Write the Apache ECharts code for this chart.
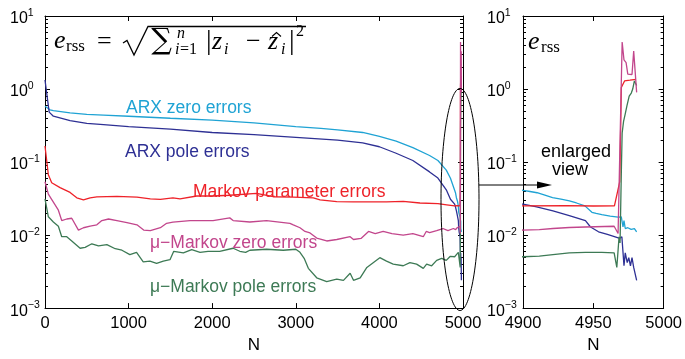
<!DOCTYPE html>
<html><head><meta charset="utf-8">
<script src="https://cdn.jsdelivr.net/npm/echarts@6/dist/echarts.min.js"></script>
<style>html,body{margin:0;padding:0;background:#fff}#c{width:685px;height:359px}</style>
</head><body><div id="c"></div>
<script>
const xTicksMain = [0, 1000, 2000, 3000, 4000, 5000];
const xTicksZoom = [4900, 4950, 5000];
const yMajor = [0.001, 0.01, 0.1, 1, 10];
const yMinor = [0.002,0.003,0.004,0.005,0.006,0.007,0.008,0.009,
                0.02,0.03,0.04,0.05,0.06,0.07,0.08,0.09,
                0.2,0.3,0.4,0.5,0.6,0.7,0.8,0.9,
                2,3,4,5,6,7,8,9];
const seriesNames = ['ARX zero errors','ARX pole errors','Markov parameter errors','μ−Markov zero errors','μ−Markov pole errors'];

const arxZero = [[0,0.58],[60,0.52],[100,0.505],[300,0.47],[500,0.45],[700,0.44],[1000,0.424],[1500,0.398],[2000,0.375],[2500,0.345],[3000,0.305],[3300,0.29],[3500,0.275],[3800,0.254],[4000,0.225],[4200,0.193],[4400,0.158],[4600,0.123],[4700,0.105],[4800,0.0776],[4850,0.06],[4900,0.041],[4905,0.0395],[4910,0.038],[4915,0.0355],[4921,0.0325],[4927,0.031],[4933,0.0293],[4938,0.0275],[4944,0.0251],[4949,0.0205],[4952,0.0198],[4956,0.019],[4962,0.0182],[4967.6,0.0176],[4969.9,0.0178],[4971.1,0.0129],[4971.8,0.0158],[4972.7,0.0123],[4974.5,0.0126],[4976.9,0.012],[4979.2,0.0123],[4980.8,0.0111]];

const arxPole = [[0,1.33],[50,0.483],[100,0.424],[300,0.37],[500,0.339],[700,0.325],[1000,0.305],[1500,0.282],[2000,0.254],[2500,0.237],[3000,0.218],[3500,0.2],[3800,0.183],[4000,0.162],[4200,0.132],[4400,0.105],[4600,0.0733],[4700,0.0603],[4800,0.0417],[4850,0.0309],[4900,0.0265],[4909.7,0.0244],[4921.3,0.0215],[4932.9,0.0185],[4944.4,0.0158],[4948,0.0129],[4953.7,0.0111],[4960,0.0102],[4965,0.00953],[4968.8,0.00904],[4970.3,0.0095],[4971.8,0.0038],[4972.7,0.0057],[4974.1,0.0042],[4975.2,0.0049],[4976.4,0.0038],[4977.5,0.0049],[4978.7,0.0036],[4979.6,0.0034],[4980.8,0.0024]];

const markov = [[0,0.166],[40,0.067],[80,0.052],[180,0.0447],[300,0.0384],[380,0.0324],[460,0.0303],[540,0.0324],[620,0.0334],[860,0.0339],[1100,0.0331],[1260,0.0313],[1380,0.0309],[1530,0.0324],[1615,0.0313],[1815,0.0343],[2010,0.0343],[2210,0.0351],[2530,0.0372],[2730,0.0335],[2970,0.0331],[3210,0.0324],[3290,0.0303],[3490,0.0288],[3685,0.0285],[4085,0.0285],[4285,0.029],[4485,0.0275],[4700,0.027],[4805,0.026],[4900,0.0251],[4930,0.0253],[4950,0.025],[4965,0.0251],[4968.8,0.054],[4969.9,1.05],[4972.2,1.29],[4976,1.32],[4980.3,1.36]];

const muZero = [[0,0.0537],[40,0.0363],[100,0.0282],[160,0.0219],[200,0.0158],[260,0.0166],[320,0.017],[400,0.0117],[460,0.0126],[540,0.0133],[620,0.0138],[680,0.0158],[760,0.0166],[860,0.0158],[980,0.0148],[1100,0.0138],[1180,0.0117],[1260,0.0115],[1380,0.0126],[1455,0.0145],[1530,0.015],[1735,0.0158],[2010,0.0158],[2210,0.0172],[2250,0.0158],[2450,0.0151],[2650,0.0158],[2930,0.0145],[2970,0.0138],[3050,0.0126],[3110,0.0112],[3170,0.0107],[3250,0.0091],[3370,0.0083],[3490,0.0087],[3650,0.0095],[3690,0.0087],[3780,0.009],[3870,0.0112],[3950,0.0105],[4045,0.0112],[4150,0.0105],[4285,0.01],[4400,0.0105],[4525,0.0095],[4560,0.0112],[4600,0.0108],[4685,0.0115],[4760,0.0123],[4820,0.0115],[4885,0.0123],[4900,0.0117],[4911.6,0.0119],[4921.3,0.0123],[4932.9,0.0127],[4944.4,0.0129],[4964.8,0.0132],[4967.6,0.0105],[4970.5,4.4],[4971.8,2.5],[4973.3,2.3],[4974.5,1.6],[4977.5,1.58],[4978.7,3.3],[4980.8,0.9]];

const muPole = [[0,0.0313],[40,0.0178],[100,0.0151],[160,0.0132],[200,0.0095],[260,0.0095],[320,0.0083],[420,0.0066],[480,0.0068],[560,0.0076],[640,0.0071],[740,0.0074],[840,0.0065],[920,0.0062],[1015,0.0054],[1095,0.0058],[1175,0.0043],[1255,0.0044],[1335,0.0041],[1415,0.0044],[1495,0.0046],[1540,0.006],[1655,0.0057],[1755,0.0063],[1855,0.0058],[1950,0.006],[2090,0.006],[2250,0.0066],[2330,0.006],[2400,0.0058],[2450,0.0062],[2650,0.0064],[2850,0.0062],[3000,0.0064],[3050,0.0058],[3100,0.0048],[3150,0.0035],[3250,0.0026],[3370,0.0023],[3490,0.0025],[3570,0.0024],[3650,0.003],[3690,0.0024],[3770,0.0026],[3850,0.0036],[4005,0.0049],[4085,0.0044],[4165,0.004],[4285,0.0038],[4365,0.0042],[4445,0.004],[4525,0.0035],[4565,0.004],[4625,0.0038],[4685,0.0045],[4745,0.0048],[4800,0.0045],[4845,0.0051],[4900,0.00505],[4911.6,0.00515],[4921.3,0.0054],[4932.9,0.0057],[4944.4,0.0058],[4956,0.0058],[4964.8,0.0057],[4966.7,0.0036],[4968.3,0.0095],[4969,0.0078],[4970,0.09],[4970.5,0.25],[4971.5,0.36],[4972.5,0.44],[4974,0.6],[4975.5,0.8],[4977,0.88],[4978,1.0],[4979.2,1.29],[4980.8,1.12]];

const colors = {arxZero:'#1fa3d4', arxPole:'#2e3094', markov:'#ee2229', muZero:'#c2468c', muPole:'#3d7a55'};

const SANS = '"Liberation Sans", Arial, Helvetica, sans-serif';
const SERIF = '"Liberation Serif", "DejaVu Serif", serif';

function xAx(grid, min, max, interval, pos, labels) {
  return {
    type: 'value', gridIndex: grid, min: min, max: max, interval: interval, position: pos,
    axisLine: {show: true, onZero: false, lineStyle: {color: '#000', width: 1}},
    axisTick: {show: true, inside: true, length: 5, lineStyle: {color: '#000', width: 1}},
    axisLabel: {show: labels, margin: 7, color: '#000', fontSize: 16.5, fontFamily: SANS,
                formatter: function (v) { return String(v); }},
    splitLine: {show: false},
    name: labels ? 'N' : '', nameLocation: 'middle', nameGap: 24,
    nameTextStyle: {color: '#000', fontSize: 17, fontFamily: SANS}
  };
}
function expFmt(v) {
  const e = Math.round(Math.log10(v));
  return '{b|10}{s|' + (e < 0 ? '\u2212' + (-e) : e) + '}';
}
function yAx(grid, pos, major, labels, margin) {
  return {
    type: 'log', logBase: 10, gridIndex: grid, min: 0.001, max: 10, position: pos,
    axisLine: {show: major, onZero: false, lineStyle: {color: '#000', width: 1}},
    axisTick: {show: true, inside: true, length: major ? 5 : 3, customValues: major ? yMajor : yMinor,
               lineStyle: {color: '#000', width: 1}},
    axisLabel: {show: labels, customValues: yMajor, align: 'left', margin: margin, formatter: expFmt,
      rich: {
        b: {fontSize: 16, fontFamily: SANS, color: '#000', padding: [6, 0, 0, 0]},
        s: {fontSize: 10.5, fontFamily: SANS, color: '#000', padding: [0, 0, 6, 0]}
      }},
    splitLine: {show: false}, minorTick: {show: false}
  };
}

const grids = [
  {left: 45, top: 16, width: 418, height: 301},
  {left: 523, top: 16, width: 144, height: 301}
];
const xAxes = [
  xAx(0, 0, 5000, 1000, 'bottom', true),
  xAx(0, 0, 5000, 1000, 'top', false),
  xAx(1, 4900, 5000, 50, 'bottom', true),
  xAx(1, 4900, 5000, 50, 'top', false)
];
const yAxes = [
  yAx(0, 'left', true, true, 35), yAx(0, 'left', false, false, 0),
  yAx(0, 'right', true, false, 0), yAx(0, 'right', false, false, 0),
  yAx(1, 'left', true, true, 36), yAx(1, 'left', false, false, 0),
  yAx(1, 'right', true, false, 0), yAx(1, 'right', false, false, 0)
];

const order = [['arxZero', arxZero], ['arxPole', arxPole], ['markov', markov], ['muPole', muPole], ['muZero', muZero]];
const series = [];
[[0, 0], [2, 4]].forEach(function (ax) {
  order.forEach(function (o) {
    series.push({
      type: 'line', xAxisIndex: ax[0], yAxisIndex: ax[1], data: o[1], showSymbol: false, symbol: 'none',
      lineStyle: {color: colors[o[0]], width: 1.3}, clip: true, animation: false, silent: true
    });
  });
});

function txt(x, y, text, size, style, fam, fill, align) {
  return {type: 'text', x: x, y: y, z: 100, silent: true,
    style: {text: text, fontSize: size, fontStyle: style || 'normal', fontFamily: fam || SANS,
            fill: fill || '#000', textAlign: align || 'left', align: align || 'left',
            textVerticalAlign: 'middle', verticalAlign: 'middle'}};
}

const graphic = [
  txt(126, 108, seriesNames[0], 17.5, 'normal', SANS, colors.arxZero),
  txt(125, 152, seriesNames[1], 17.5, 'normal', SANS, colors.arxPole),
  txt(193, 192, seriesNames[2], 17.5, 'normal', SANS, colors.markov),
  txt(150, 243, seriesNames[3], 17.5, 'normal', SANS, colors.muZero),
  txt(150, 287, seriesNames[4], 17.5, 'normal', SANS, colors.muPole),
  txt(576, 152, 'enlarged', 18, 'normal', SANS, '#000', 'center'),
  txt(570, 170, 'view', 18, 'normal', SANS, '#000', 'center'),
  {type: 'ellipse', z: 100, silent: true, shape: {cx: 460, cy: 199.5, rx: 19, ry: 111},
   style: {fill: 'none', stroke: '#000', lineWidth: 1}},
  {type: 'line', z: 100, silent: true, shape: {x1: 479, y1: 185, x2: 540, y2: 185}, style: {stroke: '#000', lineWidth: 1}},
  {type: 'polygon', z: 100, silent: true, shape: {points: [[537, 181.5], [552, 185], [537, 188.5]]}, style: {fill: '#000'}},
  // formula (left panel)
  txt(54, 41.5, 'e', 26, 'italic', SERIF),
  txt(66, 47, 'rss', 17, 'normal', SERIF),
  txt(97, 42.5, '=', 26, 'normal', SERIF),
  {type: 'polyline', z: 100, silent: true, shape: {points: [[123, 43], [127, 40.5], [134, 55], [148, 26.5], [306, 26.5]]},
   style: {fill: 'none', stroke: '#000', lineWidth: 1.3}},
  txt(161.5, 41, '\u2211', 29, 'normal', '"DejaVu Serif", serif', '#000', 'center'),
  txt(177, 33.5, 'n', 16, 'italic', SERIF),
  txt(175, 50, 'i', 16, 'italic', SERIF),
  txt(180, 50, '=1', 16, 'normal', SERIF),
  txt(206, 41.5, '|', 28, 'normal', SERIF),
  txt(212, 42.5, 'z', 26, 'italic', SERIF),
  txt(224, 50, 'i', 16, 'italic', SERIF),
  txt(246, 42.5, '\u2212', 26, 'normal', SERIF),
  txt(268, 42.5, 'z', 26, 'italic', SERIF),
  {type: 'polyline', z: 100, silent: true, shape: {points: [[272, 36.5], [276.5, 32.5], [281, 36.5]]},
   style: {fill: 'none', stroke: '#000', lineWidth: 1.1}},
  txt(281, 50, 'i', 16, 'italic', SERIF),
  txt(289, 41.5, '|', 28, 'normal', SERIF),
  txt(296, 32, '2', 16, 'normal', SERIF),
  // formula (right panel)
  txt(528, 42.5, 'e', 26, 'italic', SERIF),
  txt(541, 48, 'rss', 17, 'normal', SERIF)
];

const chart = echarts.init(document.getElementById('c'), null, {renderer: 'canvas'});
chart.setOption({
  animation: false, backgroundColor: '#fff',
  grid: grids, xAxis: xAxes, yAxis: yAxes, series: series, graphic: graphic
});
</script></body></html>
